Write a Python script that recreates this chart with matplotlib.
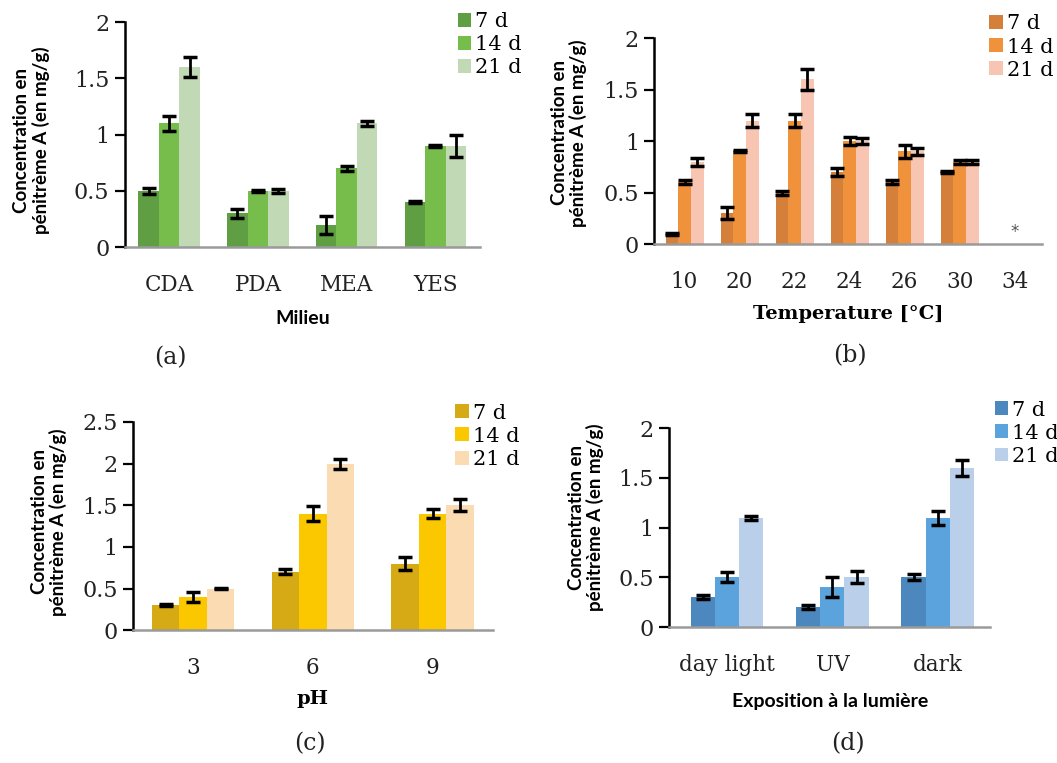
import matplotlib.pyplot as plt
import numpy as np

# ---- data ----
days = ["7 d", "14 d", "21 d"]

milieu = ["CDA", "PDA", "MEA", "YES"]
milieu_vals = [[0.5, 0.3, 0.2, 0.4],
               [1.1, 0.5, 0.7, 0.9],
               [1.6, 0.5, 1.1, 0.9]]
milieu_err = [[0.03, 0.04, 0.08, 0.01],
              [0.07, 0.01, 0.02, 0.01],
              [0.09, 0.02, 0.02, 0.10]]

temps = ["10", "20", "22", "24", "26", "30", "34"]
temp_vals = [[0.1, 0.3, 0.5, 0.7, 0.6, 0.7, 0.0],
             [0.6, 0.9, 1.2, 1.0, 0.9, 0.8, 0.0],
             [0.8, 1.2, 1.6, 1.0, 0.9, 0.8, 0.0]]
temp_err = [[0.01, 0.06, 0.02, 0.04, 0.02, 0.01, 0.0],
            [0.02, 0.01, 0.06, 0.04, 0.06, 0.02, 0.0],
            [0.04, 0.06, 0.10, 0.03, 0.03, 0.02, 0.0]]

ph = ["3", "6", "9"]
ph_vals = [[0.3, 0.7, 0.8],
           [0.4, 1.4, 1.4],
           [0.5, 2.0, 1.5]]
ph_err = [[0.01, 0.03, 0.08],
          [0.06, 0.09, 0.05],
          [0.01, 0.06, 0.07]]

light = ["day light", "UV", "dark"]
light_vals = [[0.3, 0.2, 0.5],
              [0.5, 0.4, 1.1],
              [1.1, 0.5, 1.6]]
light_err = [[0.02, 0.02, 0.03],
             [0.05, 0.10, 0.07],
             [0.02, 0.06, 0.08]]

greens = ["#5f9e42", "#76bd4c", "#c2d9b5"]
oranges = ["#d5803a", "#f0913c", "#f8c5b2"]
yellows = ["#d6aa14", "#fbc800", "#fbdcb2"]
blues = ["#4c87bd", "#5ba3dc", "#b9cfea"]

ylab = "Concentration en\npénitrème A (en mg/g)"

serif = "DejaVu Serif"
sans = "Lato"

fig = plt.figure(figsize=(10.57, 7.63), dpi=100)


def panel(rect, cats, vals, errs, colors, ymax, yticks, ytl, xlabel, xlab_font,
          ylab_xy, xlab_y, leg_xy, xlim):
    ax = fig.add_axes(rect)
    x = np.arange(len(cats))
    w = 0.23
    for k in range(3):
        v = np.array(vals[k], dtype=float)
        e = np.array(errs[k], dtype=float)
        e[v == 0] = np.nan   # no error bar where nothing was measured
        ax.bar(x + (k - 1) * w, v, w, color=colors[k], label=days[k],
               yerr=e, capsize=5,
               error_kw=dict(ecolor="black", elinewidth=2, capthick=2.5))
    ax.set_xlim(xlim)
    ax.set_ylim(0, ymax)
    ax.set_yticks(yticks)
    ax.set_yticklabels(ytl, fontfamily=serif, fontsize=16, color="#222222")
    ax.set_xticks(x)
    ax.set_xticklabels(cats, fontfamily=serif, fontsize=15.5, color="#222222")
    ax.tick_params(axis="x", length=0, pad=19)
    ax.tick_params(axis="y", length=7, width=1.6, direction="out", pad=4)
    for s in ["top", "right"]:
        ax.spines[s].set_visible(False)
    ax.spines["left"].set_linewidth(1.8)
    ax.spines["bottom"].set_color("#9a9a9a")
    ax.spines["bottom"].set_linewidth(1.8)
    ax.set_ylabel(ylab, fontfamily=sans, fontweight="bold", fontsize=13.5,
                  linespacing=1.1)
    ax.yaxis.set_label_coords(*ylab_xy)
    ax.set_xlabel(xlabel, fontfamily=xlab_font, fontweight="bold", fontsize=14)
    ax.xaxis.set_label_coords(0.5, xlab_y)
    ax.legend(loc="upper left", bbox_to_anchor=leg_xy, bbox_transform=fig.transFigure,
              frameon=False, handlelength=0.65, handleheight=0.65, handletextpad=0.2,
              labelspacing=0.2, borderaxespad=0,
              prop={"family": serif, "size": 15})
    return ax


ax_a = panel([0.118, 0.676, 0.336, 0.295], milieu, milieu_vals, milieu_err, greens,
             2, [0, 0.5, 1, 1.5, 2], ["0", "0.5", "1", "1.5", "2"],
             "Milieu", sans, (-0.211, 0.475), -0.28, (0.425, 0.995), (-0.5, 3.5))

ax_b = panel([0.619, 0.680, 0.367, 0.270], temps, temp_vals, temp_err, oranges,
             2, [0, 0.5, 1, 1.5, 2], ["0", "0.5", "1", "1.5", "2"],
             "Temperature [°C]", serif, (-0.173, 0.54), -0.296, (0.928, 0.992), (-0.55, 6.5))
ax_b.text(6, 0.12, "*", ha="center", va="center", fontsize=12, color="#555555")

ax_c = panel([0.126, 0.174, 0.340, 0.273], ph, ph_vals, ph_err, yellows,
             2.5, [0, 0.5, 1, 1.5, 2, 2.5], ["0", "0.5", "1", "1.5", "2", "2.5"],
             "pH", serif, (-0.183, 0.52), -0.288, (0.423, 0.482), (-0.5, 2.5))

ax_d = panel([0.633, 0.178, 0.304, 0.261], light, light_vals, light_err, blues,
             2, [0, 0.5, 1, 1.5, 2], ["0", "0.5", "1", "1.5", "2"],
             "Exposition à la lumière", sans, (-0.202, 0.55), -0.33, (0.933, 0.486), (-0.55, 2.5))

for txt, xf, yf in [("(a)", 170, 358), ("(b)", 850, 356), ("(c)", 310, 744), ("(d)", 848, 744)]:
    fig.text(xf / 1057, 1 - yf / 763, txt, ha="center", va="center",
             fontfamily=serif, fontsize=17, color="#222222")

fig.savefig("out.png", dpi=100)
